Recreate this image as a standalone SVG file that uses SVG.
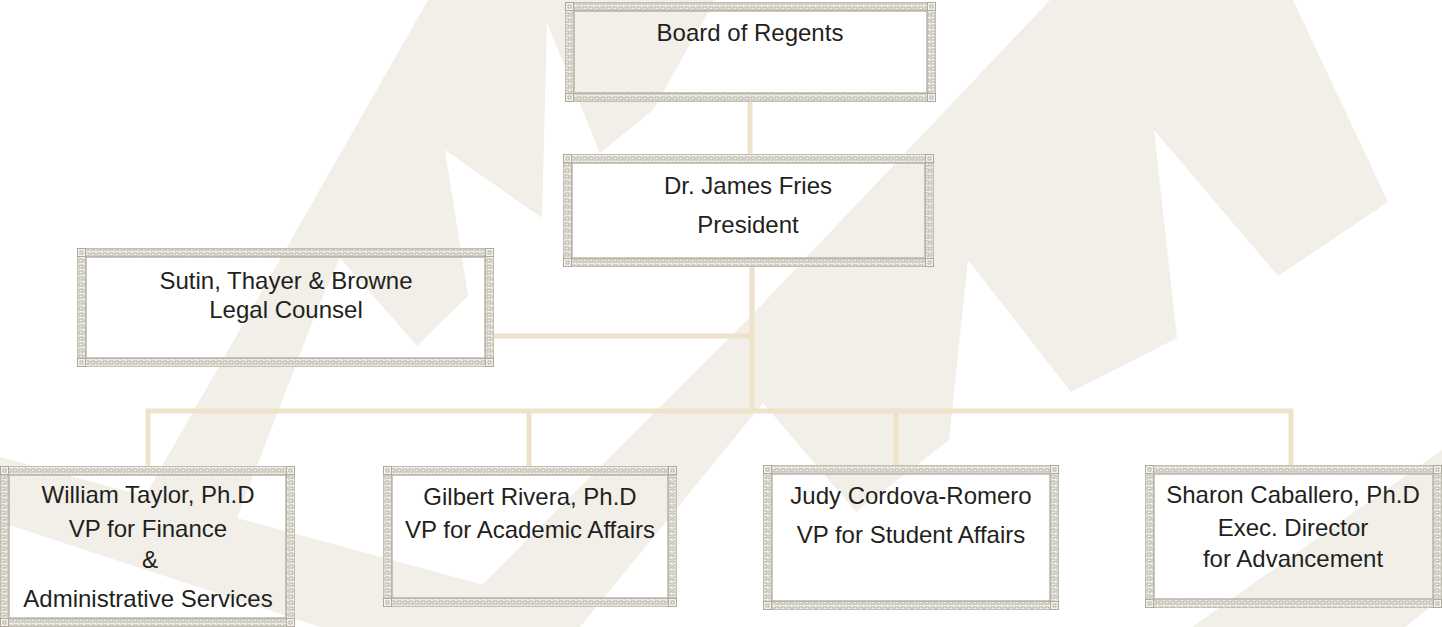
<svg xmlns="http://www.w3.org/2000/svg" xmlns:xlink="http://www.w3.org/1999/xlink" width="1442" height="627" viewBox="0 0 1442 627">
<defs>
<style>
.bg{fill:#f2efe9}
.band{fill:url(#key);fill-rule:evenodd}
.ol{fill:none;stroke:#c4bfb3;stroke-width:1}
.il{fill:none;stroke:#a9a497;stroke-width:1.2}
.con{fill:none;stroke:#eee3ca;stroke-width:5}
text{font-family:"Liberation Sans",Arial,sans-serif;font-size:24px;fill:#231f20;text-anchor:middle}
</style>
<pattern id="key" width="6" height="6" patternUnits="userSpaceOnUse">
<rect width="6" height="6" fill="#f0eee8"/>
<path d="M1 5.5V1H5V4.2H2.8V3" fill="none" stroke="#a7a296" stroke-width="0.8"/>
</pattern>
<g id="cn"><rect x="0.5" y="0.5" width="8" height="8" fill="#f3f1ec" stroke="#a9a497" stroke-width="0.9"/><rect x="3" y="3" width="3" height="3" fill="none" stroke="#a9a497" stroke-width="0.8"/></g>
</defs>
<rect width="1442" height="627" fill="#ffffff"/>
<g id="watermark">
<polygon class="bg" points="428,0 715,0 653,110 600,153 547,23 542,218 445,150 468,296 417,346 340,258 317,310 237,518 495,588 470,627 320,627 0,522 0,457 145,496"/>
<polygon class="bg" points="1050,0 1293,0 1388,202 1278,276 1154,130 1177,338 1071,392 968,260 949,440 856,512 763,403 580,627 440,627 747,320"/>
<polygon class="bg" points="1442,450 1192,627 1405,627 1442,598"/>
</g>
<g id="connectors">
<path class="con" d="M750 102V154"/>
<path class="con" d="M752 267V411"/>
<path class="con" d="M494 336H752"/>
<path class="con" d="M148 466V411H1291V465"/>
<path class="con" d="M529 411V466"/>
<path class="con" d="M896 411V465"/>
</g>
<g id="n-board">
<path class="band" d="M565 2H936V102H565Z M574 11V93H927V11Z"/>
<rect class="ol" x="565.5" y="2.5" width="370" height="99"/>
<rect class="il" x="574" y="11" width="353" height="82"/>
<use xlink:href="#cn" x="565" y="2"/><use xlink:href="#cn" x="927" y="2"/><use xlink:href="#cn" x="565" y="93"/><use xlink:href="#cn" x="927" y="93"/>
<text x="750" y="41">Board of Regents</text>
</g>
<g id="n-president">
<path class="band" d="M563 154H934V267H563Z M572 163V258H925V163Z"/>
<rect class="ol" x="563.5" y="154.5" width="370" height="112"/>
<rect class="il" x="572" y="163" width="353" height="95"/>
<use xlink:href="#cn" x="563" y="154"/><use xlink:href="#cn" x="925" y="154"/><use xlink:href="#cn" x="563" y="258"/><use xlink:href="#cn" x="925" y="258"/>
<text x="748" y="194">Dr. James Fries</text>
<text x="748" y="233">President</text>
</g>
<g id="n-legal">
<path class="band" d="M77 248H494V367H77Z M86 257V358H485V257Z"/>
<rect class="ol" x="77.5" y="248.5" width="416" height="118"/>
<rect class="il" x="86" y="257" width="399" height="101"/>
<use xlink:href="#cn" x="77" y="248"/><use xlink:href="#cn" x="485" y="248"/><use xlink:href="#cn" x="77" y="358"/><use xlink:href="#cn" x="485" y="358"/>
<text x="286" y="289">Sutin, Thayer &amp; Browne</text>
<text x="286" y="318">Legal Counsel</text>
</g>
<g id="n-finance">
<path class="band" d="M0 466H295V627H0Z M9 475V618H286V475Z"/>
<rect class="ol" x="0.5" y="466.5" width="294" height="160"/>
<rect class="il" x="9" y="475" width="277" height="143"/>
<use xlink:href="#cn" x="0" y="466"/><use xlink:href="#cn" x="286" y="466"/><use xlink:href="#cn" x="0" y="618"/><use xlink:href="#cn" x="286" y="618"/>
<text x="148" y="503">William Taylor, Ph.D</text>
<text x="148" y="537">VP for Finance</text>
<text x="150" y="568">&amp;</text>
<text x="148" y="607">Administrative Services</text>
</g>
<g id="n-academic">
<path class="band" d="M383 466H677V607H383Z M392 475V598H668V475Z"/>
<rect class="ol" x="383.5" y="466.5" width="293" height="140"/>
<rect class="il" x="392" y="475" width="276" height="123"/>
<use xlink:href="#cn" x="383" y="466"/><use xlink:href="#cn" x="668" y="466"/><use xlink:href="#cn" x="383" y="598"/><use xlink:href="#cn" x="668" y="598"/>
<text x="530" y="505">Gilbert Rivera, Ph.D</text>
<text x="530" y="538">VP for Academic Affairs</text>
</g>
<g id="n-student">
<path class="band" d="M763 465H1059V610H763Z M772 474V601H1050V474Z"/>
<rect class="ol" x="763.5" y="465.5" width="295" height="144"/>
<rect class="il" x="772" y="474" width="278" height="127"/>
<use xlink:href="#cn" x="763" y="465"/><use xlink:href="#cn" x="1050" y="465"/><use xlink:href="#cn" x="763" y="601"/><use xlink:href="#cn" x="1050" y="601"/>
<text x="911" y="504">Judy Cordova-Romero</text>
<text x="911" y="543">VP for Student Affairs</text>
</g>
<g id="n-advancement">
<path class="band" d="M1145 465H1442V608H1145Z M1154 474V599H1433V474Z"/>
<rect class="ol" x="1145.5" y="465.5" width="296" height="142"/>
<rect class="il" x="1154" y="474" width="279" height="125"/>
<use xlink:href="#cn" x="1145" y="465"/><use xlink:href="#cn" x="1433" y="465"/><use xlink:href="#cn" x="1145" y="599"/><use xlink:href="#cn" x="1433" y="599"/>
<text x="1293" y="503">Sharon Caballero, Ph.D</text>
<text x="1293" y="536">Exec. Director</text>
<text x="1293" y="567">for Advancement</text>
</g>
</svg>
